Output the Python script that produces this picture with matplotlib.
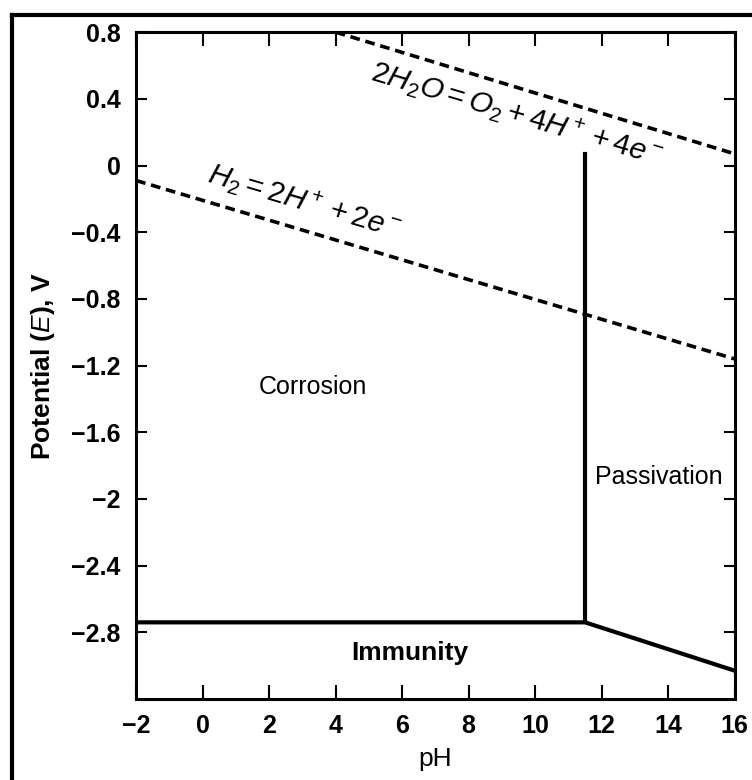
import matplotlib
matplotlib.use("Agg")
import matplotlib.pyplot as plt
from matplotlib.lines import Line2D

plt.rcParams['font.family'] = ['Liberation Sans', 'DejaVu Sans']
plt.rcParams['mathtext.fontset'] = 'custom'
plt.rcParams['mathtext.rm'] = 'Liberation Sans'
plt.rcParams['mathtext.it'] = 'Liberation Sans:italic'
plt.rcParams['mathtext.bf'] = 'Liberation Sans:bold'

# ---- data ----
immunity_ph = [-2, 11.5, 16]
immunity_E = [-2.74, -2.74, -3.03]
passiv_ph = [11.5, 11.5]
passiv_E = [-2.74, 0.07]
h2_ph = [-2, 16]
h2_E = [-0.09, -1.16]
o2_ph = [4.0, 16]
o2_E = [0.80, 0.07]
xticks = [-2, 0, 2, 4, 6, 8, 10, 12, 14, 16]
yticks = [0.8, 0.4, 0, -0.4, -0.8, -1.2, -1.6, -2, -2.4, -2.8]
ytick_labels = ['0.8', '0.4', '0', '\u22120.4', '\u22120.8', '\u22121.2', '\u22121.6',
                '\u22122', '\u22122.4', '\u22122.8']
xtick_labels = ['\u22122', '0', '2', '4', '6', '8', '10', '12', '14', '16']

fig = plt.figure(figsize=(7.52, 7.80), dpi=100)
ax = fig.add_axes([0.181, 0.1038, 0.796, 0.855])

lw_solid = 3.0
ax.plot(immunity_ph, immunity_E, color='black', lw=lw_solid, solid_joinstyle='miter')
ax.plot(passiv_ph, passiv_E, color='black', lw=lw_solid)
ax.plot(h2_ph, h2_E, color='black', lw=2.6, ls=(0, (2.7, 1.6)))
ax.plot(o2_ph, o2_E, color='black', lw=2.6, ls=(0, (2.7, 1.6)))

ax.set_xlim(-2, 16)
ax.set_ylim(-3.2, 0.8)
ax.set_xticks(xticks)
ax.set_xticklabels(xtick_labels)
ax.set_yticks(yticks)
ax.set_yticklabels(ytick_labels)

ax.tick_params(axis='x', direction='in', length=10, width=1.5, top=True, pad=11,
               labelsize=18)
ax.tick_params(axis='y', direction='in', length=8, width=1.5, right=True, pad=11,
               labelsize=18)
for lab in ax.get_xticklabels() + ax.get_yticklabels():
    lab.set_fontweight('bold')
for s in ax.spines.values():
    s.set_linewidth(2.2)

ax.set_xlabel('pH', fontsize=19, labelpad=6)
ax.set_ylabel('Potential ($E$), V', fontsize=19, fontweight='bold', labelpad=10)

# annotations
ax.text(3.05, -0.215, r'$\mathit{H_2 = 2H^+ + 2e^-}$', fontsize=21.5, rotation=-16.5,
        rotation_mode='anchor', ha='center', va='center')
ax.text(9.45, 0.305, r'$\mathit{2H_2O = O_2 + 4H^+ + 4e^-}$', fontsize=21.5,
        rotation=-16.5, rotation_mode='anchor', ha='center', va='center')
ax.text(3.32, -1.33, 'Corrosion', fontsize=18, ha='center', va='center')
ax.text(13.72, -1.87, 'Passivation', fontsize=18, ha='center', va='center')
ax.text(6.23, -2.925, 'Immunity', fontsize=19, ha='center', va='center',
        fontweight='bold')

# outer frame (top and left)
fig.add_artist(Line2D([11.5 / 752, 1.0], [1 - 14.5 / 780, 1 - 14.5 / 780],
                      color='black', lw=3.0, transform=fig.transFigure))
fig.add_artist(Line2D([11.5 / 752, 11.5 / 752], [0, 1 - 14.5 / 780],
                      color='black', lw=3.0, transform=fig.transFigure))

fig.savefig('out.png', dpi=100)
